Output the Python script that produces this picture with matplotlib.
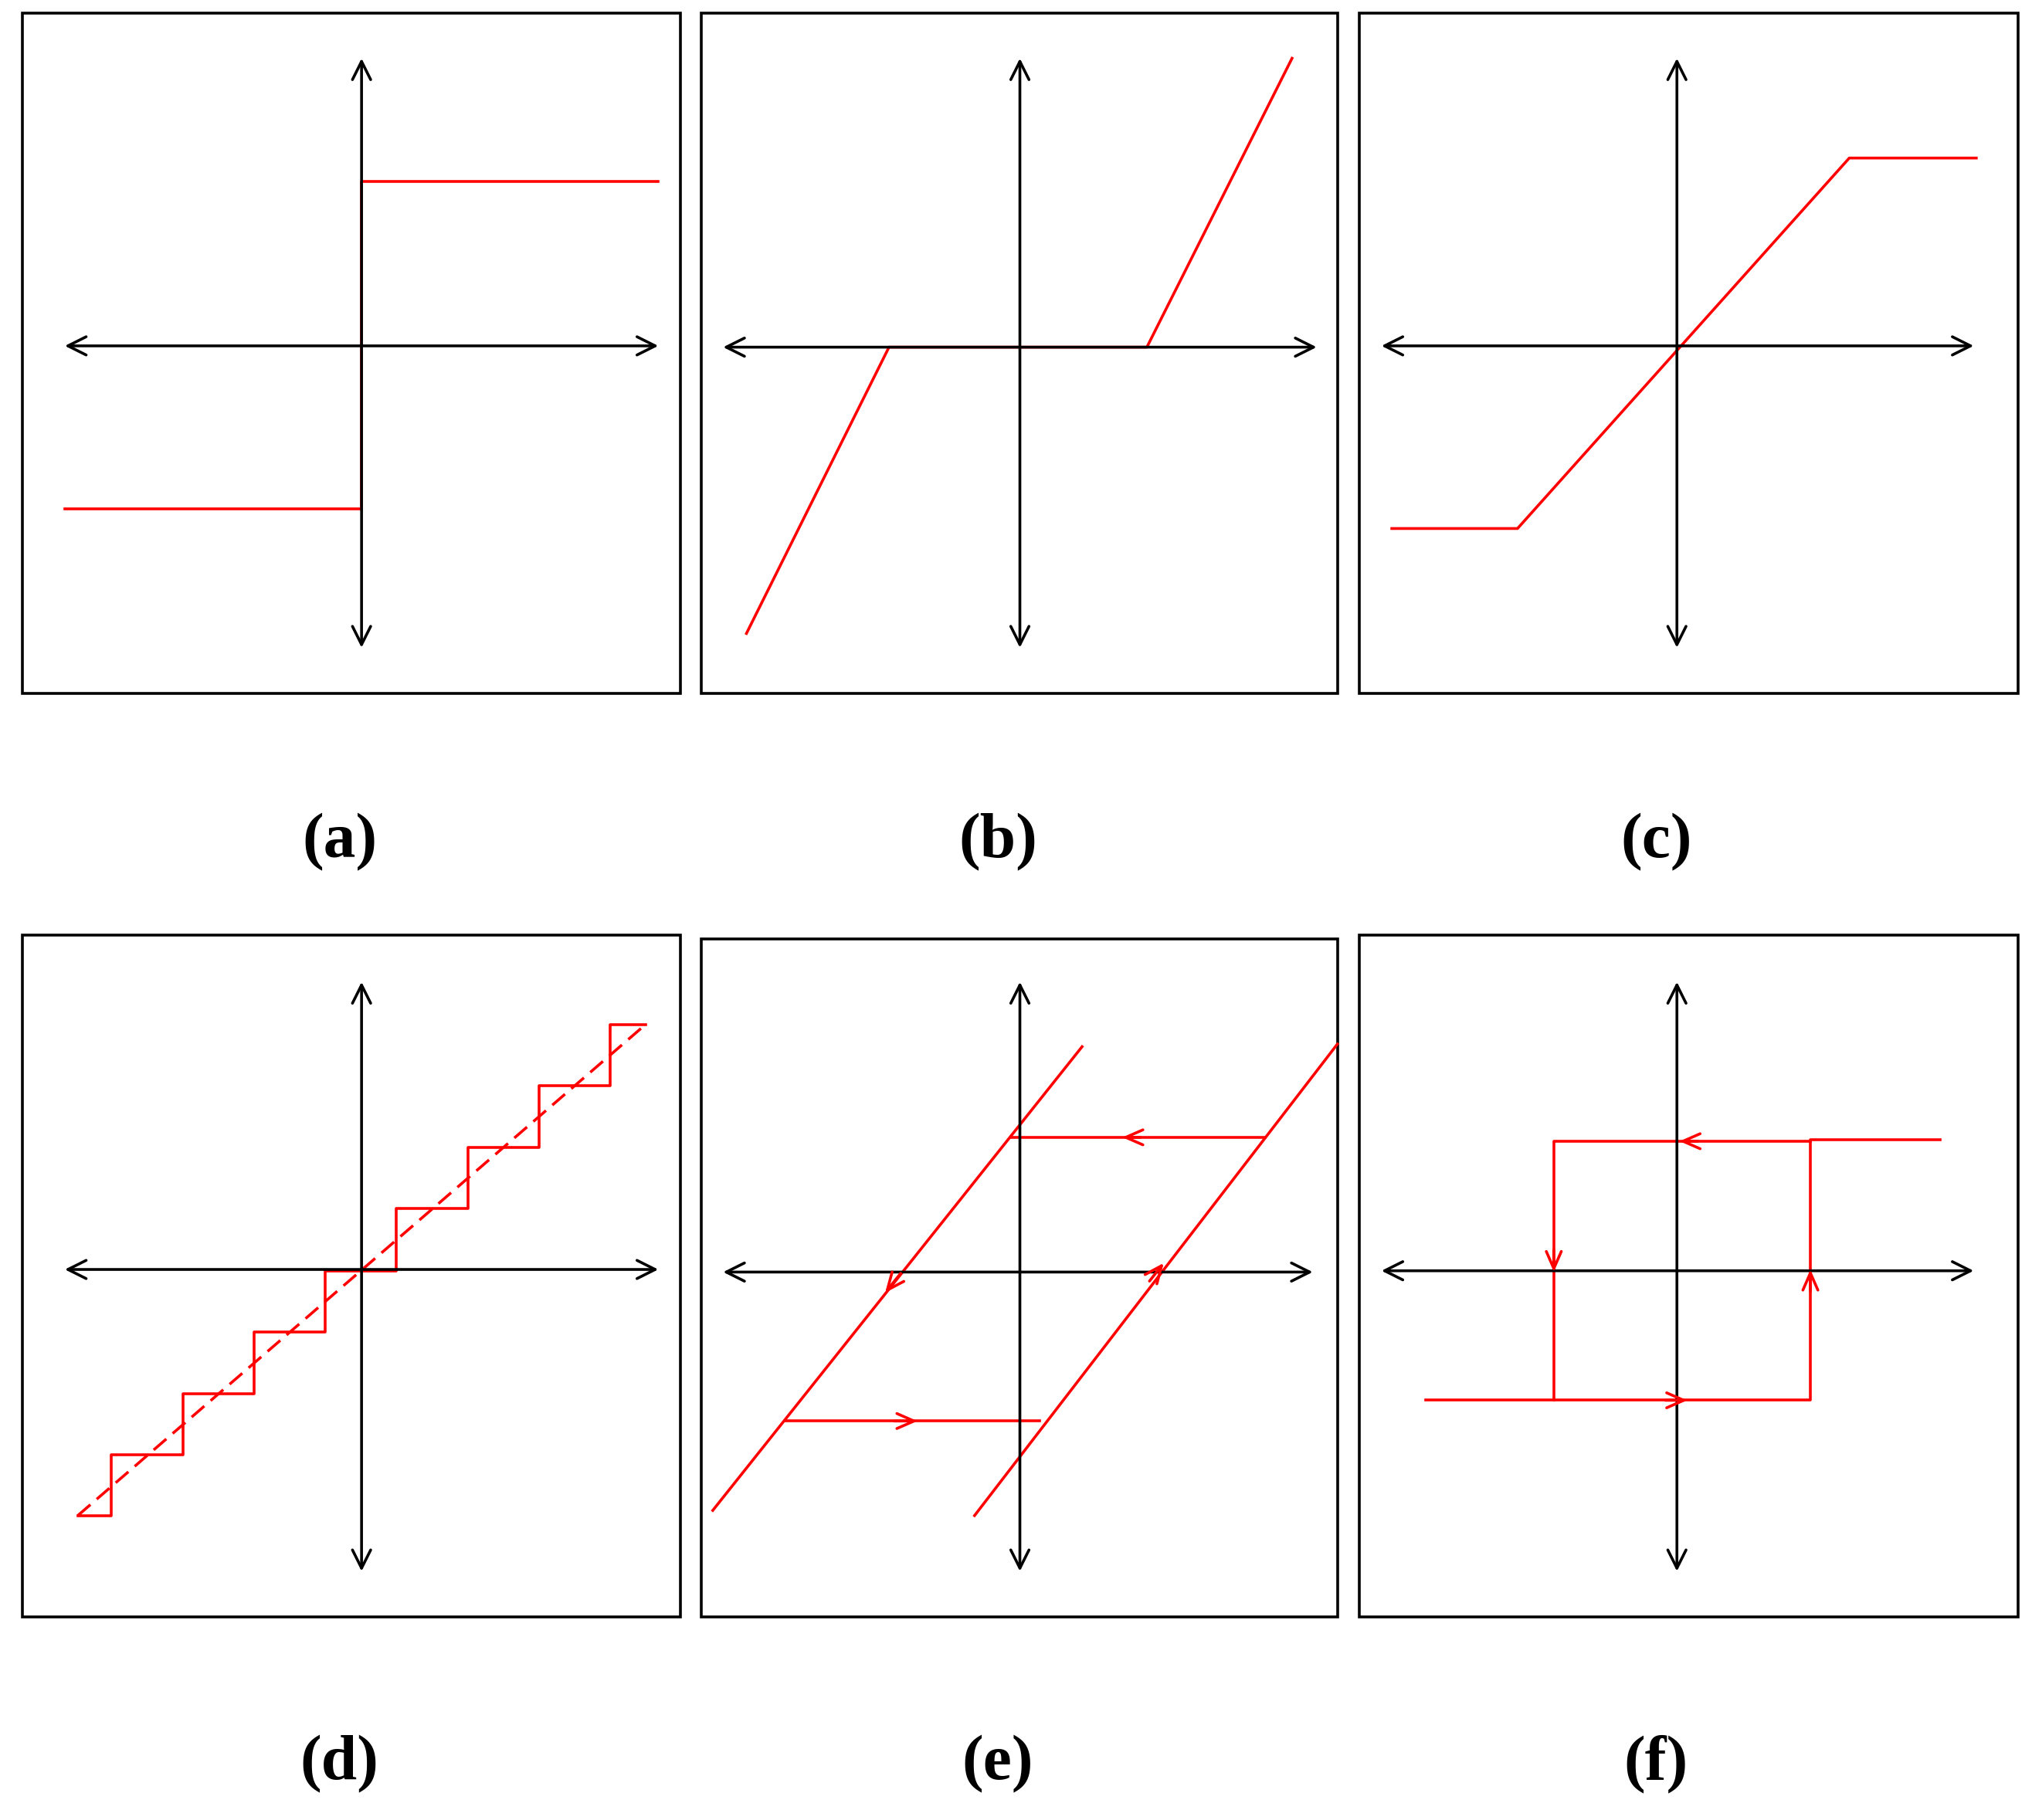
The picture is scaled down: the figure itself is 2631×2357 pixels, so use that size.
import matplotlib
matplotlib.use("Agg")
import matplotlib.pyplot as plt
from matplotlib.patches import Rectangle

W, H = 1568, 1405
# panel frames (left, top, right, bottom) in reference units
frames = [(17, 10, 525, 535), (541, 10, 1032, 535), (1049, 10, 1557, 535),
          (17, 722, 525, 1248), (541, 725, 1032, 1248), (1049, 722, 1557, 1248)]
# axis crosses: (x0, x1, y_h, xv, y0, y1)
axes_cross = [(50, 508, 267, 279, 45, 500), (558, 1016, 268, 787, 45, 500),
              (1066, 1523, 267, 1294, 45, 500), (50, 508, 980, 279, 758, 1213),
              (558, 1013, 982, 787, 758, 1213), (1066, 1523, 981, 1294, 758, 1213)]
labels = ["(a)", "(b)", "(c)", "(d)", "(e)", "(f)"]
label_pos = [(262, 650), (770, 650), (1278, 650), (262, 1362), (770, 1362), (1278, 1362)]

# red curves
a_x = [50, 279, 279, 508]; a_y = [393, 393, 140, 140]
b_x = [576, 686, 885, 997]; b_y = [489, 268, 268, 45]
c_x = [1074, 1171, 1427, 1525]; c_y = [408, 408, 122, 122]
d_x = [60, 86, 86, 141, 141, 196, 196, 251, 251, 306, 306, 361, 361, 416, 416, 471, 471, 498]
d_y = [1170, 1170, 1123, 1123, 1076, 1076, 1028, 1028, 981, 981, 933, 933, 886, 886, 838, 838, 791, 791]
d_dash_x = [60, 498]; d_dash_y = [1170, 791]
e_lines = [([550, 835], [1166, 808]), ([752, 1032], [1170, 806]),
           ([780, 976], [878, 878]), ([606, 802], [1097, 1097])]
e_arrows = [((880, 878), (866, 878)), ((690, 1097), (708, 1097)),
            ((695, 983), (683, 998)), ((887, 989), (898, 975))]
f_x = [1497, 1397, 1397, 1199, 1199, 1397, 1397]
f_y = [880, 880, 881, 881, 1081, 1081, 881]
f_bottom_x = [1100, 1199]; f_bottom_y = [1081, 1081]
f_arrows = [((1310, 881), (1296, 881)), ((1199, 965), (1199, 982)),
            ((1285, 1081), (1302, 1081)), ((1397, 997), (1397, 980))]

fig = plt.figure(figsize=(26.31, 23.57), dpi=100)
ax = fig.add_axes([0, 0, 1, 1])
ax.set_xlim(0, W); ax.set_ylim(H, 0); ax.axis("off")

lw = 2.6
for (l, t, r, b) in frames:
    ax.add_patch(Rectangle((l, t), r - l, b - t, fill=False, ec="black", lw=lw))
for (x0, x1, yh, xv, y0, y1) in axes_cross:
    for p, q in [((x0, yh), (x1, yh)), ((xv, y0), (xv, y1))]:
        ax.annotate("", xy=q, xytext=p,
                    arrowprops=dict(arrowstyle="<->,head_length=1.7,head_width=0.85",
                                    color="black", lw=lw, shrinkA=0, shrinkB=0))
for txt, (x, y) in zip(labels, label_pos):
    ax.text(x, y, txt, ha="center", va="center", fontsize=60, fontweight="bold",
            family="Liberation Serif")

red = "#ff0000"
ax.plot(a_x, a_y, color=red, lw=lw)
ax.plot(b_x, b_y, color=red, lw=lw)
ax.plot(c_x, c_y, color=red, lw=lw)
ax.plot(d_x, d_y, color=red, lw=lw)
ax.plot(d_dash_x, d_dash_y, color=red, lw=lw, ls=(0, (6, 3)))
for xs, ys in e_lines:
    ax.plot(xs, ys, color=red, lw=lw)
ax.plot(f_x, f_y, color=red, lw=lw)
ax.plot(f_bottom_x, f_bottom_y, color=red, lw=lw)
for p, q in e_arrows + f_arrows:
    ax.annotate("", xy=q, xytext=p,
                arrowprops=dict(arrowstyle="->,head_length=1.6,head_width=0.7",
                                color=red, lw=lw, shrinkA=0, shrinkB=0))

fig.savefig("out.png", dpi=100, facecolor="white")
